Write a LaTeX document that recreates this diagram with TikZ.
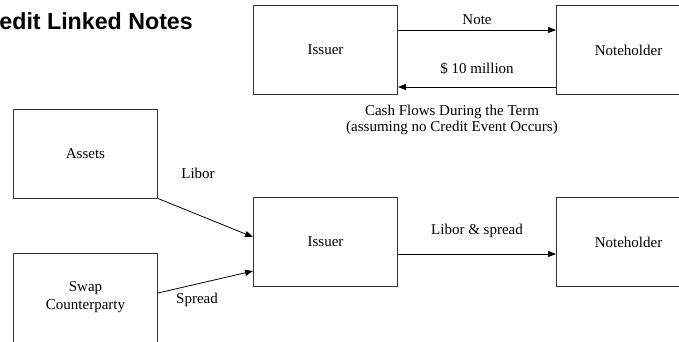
\documentclass[tikz,border=0pt]{standalone}
\usepackage{fontspec}
\setmainfont{Liberation Serif}
\newfontfamily\titlefont{Liberation Sans}
\usetikzlibrary{arrows.meta,
	calc}

\begin{document}
\begin{tikzpicture}[x=1pt,y=-1pt,font=\fontsize{15}{18}\selectfont]
    \tikzstyle{party}=[draw=black!80,line width=1pt,rectangle,minimum width=144pt,minimum height=89pt,inner sep=0pt]
    \tikzstyle{flow}=[line width=0.8pt,-{Triangle[length=8pt,width=6pt]}]
    \tikzstyle{lbl}=[inner sep=0pt]
    \useasboundingbox (0,0) rectangle (679,341);
    \node[lbl,anchor=east,font=\titlefont\bfseries\fontsize{23.2}{25}\selectfont] (title) at (193,21) {edit Linked Notes};
    \node[party] (iss_1) at (325.5,50) {Issuer};
    \node[party] (note_1) at (628.5,50) {Noteholder};
    \node[party] (iss_2) at (325.5,242) {Issuer};
    \node[party] (note_2) at (628.5,242) {Noteholder};
    \node[party] (assets) at (85.5,153.5) {Assets};
    \node[party,align=center] (swap) at (85.5,297.5) {Swap\\Counterparty};
    \draw[flow] ([yshift=20pt]iss_1.east) -- ([yshift=20pt]note_1.west) node[lbl,midway,above=5pt] (l_note) {Note};
    \draw[flow] ([yshift=-37pt]note_1.west) -- ([yshift=-37pt]iss_1.east) node[lbl,midway,above=12pt] (l_cash) {\$ 10 million};
    \node[lbl,align=center,font=\fontsize{15}{16}\selectfont] (caption) at (452,120) {Cash Flows During the Term\\(assuming no Credit Event Occurs)};
    \draw[flow] (assets.south east) -- ([yshift=5pt]iss_2.west);
    \draw[flow] ([yshift=4.5pt]swap.east) -- ([yshift=-29pt]iss_2.west);
    \draw[flow] ([yshift=-12pt]iss_2.east) -- ([yshift=-12pt]note_2.west) node[lbl,midway,above=16pt] (l_ls) {Libor \& spread};
    \node[lbl] (l_libor) at (198,173) {Libor};
    \node[lbl] (l_spread) at (197,300) {Spread};
\end{tikzpicture}
\end{document}
